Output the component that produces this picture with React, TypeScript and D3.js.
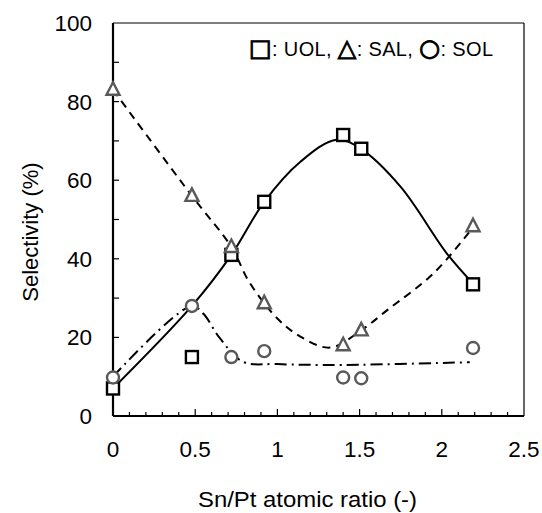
import React from 'react';
import * as d3 from 'd3';

// measured points
const snPt = [0, 0.48, 0.72, 0.92, 1.40, 1.51, 2.19];
const uol = [7, 15, 41, 54.5, 71.5, 68, 33.5];
const sal = [83, 56, 43, 28.7, 18, 21.8, 48.3];
const sol = [9.8, 28, 15, 16.5, 9.8, 9.6, 17.3];

// trend lines
const uolFitX = [0, 0.48, 0.72, 0.92, 1.14, 1.36, 1.51, 1.75, 2.03, 2.19];
const uolFitY = [7, 28, 41, 54.5, 64.7, 70.3, 67.9, 58.3, 41.4, 33.7];
const salFitX = [0, 0.48, 0.72, 0.83, 1.0, 1.14, 1.32, 1.51, 1.67, 1.95, 2.19];
const salFitY = [83, 56, 43, 34, 24.8, 20.2, 17.4, 21.8, 27, 36.3, 48];
const solFitX = [0, 0.48, 0.55, 0.65, 0.79, 1.0, 1.4, 2.17];
const solFitY = [10, 28, 26, 19.8, 13.8, 13.2, 13, 13.7];

const xTicks = [0, 0.5, 1, 1.5, 2, 2.5];
const yTicks = [0, 20, 40, 60, 80, 100];

const W = 542, H = 513;
const m = { left: 113, top: 23, right: 18, bottom: 97 };
const font = '"Liberation Sans", Arial, sans-serif';
const gray = '#595959';

export default function App() {
  const x = d3.scaleLinear().domain([0, 2.5]).range([m.left, W - m.right]);
  const y = d3.scaleLinear().domain([0, 100]).range([H - m.bottom, m.top]);
  const x0 = x(0), x1 = x(2.5), y0 = y(0), y1 = y(100);

  const fit = (xs: number[], ys: number[]) =>
    d3.line<number>()
      .x((d, i) => x(xs[i]))
      .y(d => y(d))
      .curve(d3.curveCatmullRom.alpha(0.5))(ys) as string;

  const minorX = d3.range(0, 25).map(i => i / 10);
  const minorY = d3.range(0, 10).map(i => i * 10);

  return (
    <svg width={W} height={H} style={{ position: 'absolute', left: 0, top: 0, background: '#fff' }}
      fontFamily={font}>
      {/* frame */}
      <line x1={x0} x2={x1} y1={y1} y2={y1} stroke="#000" strokeWidth={1} />
      <line x1={x1} x2={x1} y1={y1} y2={y0} stroke="#000" strokeWidth={1.2} />

      {/* trend lines */}
      <path d={fit(uolFitX, uolFitY)} fill="none" stroke="#000" strokeWidth={2} />
      <path d={fit(salFitX, salFitY)} fill="none" stroke="#000" strokeWidth={2} strokeDasharray="8,6" />
      <path d={fit(solFitX, solFitY)} fill="none" stroke="#000" strokeWidth={2} strokeDasharray="12,5,2,5" />

      {/* axes */}
      <line x1={x0} x2={x1} y1={y0} y2={y0} stroke="#000" strokeWidth={2.2} />
      <line x1={x0} x2={x0} y1={y0} y2={y1} stroke="#000" strokeWidth={2.2} />
      {minorX.map(v => {
        const major = Math.abs(v * 2 - Math.round(v * 2)) < 1e-6;
        return <line key={'xt' + v} x1={x(v)} x2={x(v)} y1={y0} y2={y0 - (major ? 7 : 4)} stroke="#000" strokeWidth={1.2} />;
      })}
      {minorY.map(v => (
        <line key={'yt' + v} x1={x0} x2={x0 + 6} y1={y(v)} y2={y(v)} stroke="#000" strokeWidth={1.2} />
      ))}
      {xTicks.map(v => (
        <text key={'xl' + v} x={x(v)} y={y0 + 41} textAnchor="middle" fontSize={22.5}>{v}</text>
      ))}
      {yTicks.map(v => (
        <text key={'yl' + v} x={x0 - 21} y={y(v) + 8} textAnchor="end" fontSize={22.5}>{v}</text>
      ))}

      {/* markers */}
      {snPt.map((v, i) => (
        <rect key={'u' + i} x={x(v) - 6} y={y(uol[i]) - 6} width={12} height={12}
          fill="#fff" stroke="#000" strokeWidth={2.4} />
      ))}
      {snPt.map((v, i) => {
        const cx = x(v), cy = y(sal[i]);
        return <path key={'s' + i} d={`M${cx},${cy - 7.5}L${cx + 6.5},${cy + 5}L${cx - 6.5},${cy + 5}Z`}
          fill="#fff" stroke={gray} strokeWidth={2.4} />;
      })}
      {snPt.map((v, i) => (
        <circle key={'o' + i} cx={x(v)} cy={y(sol[i])} r={6} fill="#fff" stroke={gray} strokeWidth={2.4} />
      ))}

      {/* legend */}
      <text x={249} y={56} fontSize={20} textLength={244} lengthAdjust="spacing">
        <tspan fontFamily="DejaVu Sans" fontWeight="bold" fontSize={24} stroke="#000" strokeWidth={1}>□</tspan>
        <tspan>: UOL, </tspan>
        <tspan fontFamily="DejaVu Sans" fontWeight="bold" fontSize={24} stroke="#000" strokeWidth={1}>△</tspan>
        <tspan>: SAL, </tspan>
        <tspan fontFamily="DejaVu Sans" fontWeight="bold" fontSize={24} stroke="#000" strokeWidth={1}>○</tspan>
        <tspan>: SOL</tspan>
      </text>

      {/* titles */}
      <text x={198} y={507} fontSize={22} textLength={219} lengthAdjust="spacingAndGlyphs">Sn/Pt atomic ratio (-)</text>
      <text transform={`translate(38,232) rotate(-90)`} textAnchor="middle" fontSize={22}>Selectivity (%)</text>
    </svg>
  );
}
